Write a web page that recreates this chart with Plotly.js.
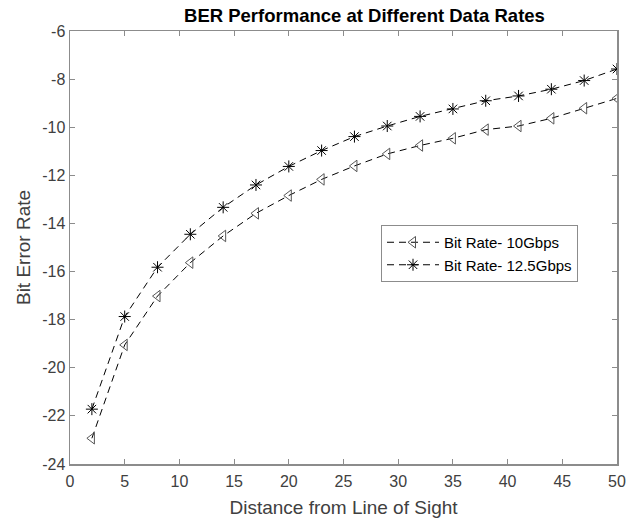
<!DOCTYPE html>
<html>
<head>
<meta charset="utf-8">
<script src="https://cdn.plot.ly/plotly-3.0.1.min.js"></script>
<style>html,body{margin:0;padding:0;background:#fff;}#chart{width:639px;height:520px;}</style>
</head>
<body>
<div id="chart"></div>
<script>
const distance = [2, 5, 8, 11, 14, 17, 20, 23, 26, 29, 32, 35, 38, 41, 44, 47, 50];
const ber10 = [-22.93, -19.05, -17.02, -15.63, -14.52, -13.58, -12.84, -12.17, -11.61, -11.11, -10.76, -10.46, -10.1, -9.95, -9.63, -9.21, -8.8];
const ber125 = [-21.72, -17.87, -15.82, -14.45, -13.33, -12.4, -11.63, -10.97, -10.39, -9.95, -9.55, -9.24, -8.9, -8.7, -8.42, -8.06, -7.58];
const seriesNames = ["Bit Rate- 10Gbps", "Bit Rate- 12.5Gbps"];
const xTicks = [0, 5, 10, 15, 20, 25, 30, 35, 40, 45, 50];
const yTicks = [-24, -22, -20, -18, -16, -14, -12, -10, -8, -6];

const font = "Liberation Sans, Arial, Helvetica, sans-serif";
const traces = [
  {x: distance, y: ber10, name: seriesNames[0], mode: "lines+markers", type: "scatter",
   line: {color: "#000", width: 1, dash: "7px,5px"},
   marker: {symbol: "triangle-left-open", size: 10, color: "#555", line: {color: "#555", width: 1}}},
  {x: distance, y: ber125, name: seriesNames[1], mode: "lines+markers", type: "scatter",
   line: {color: "#000", width: 1, dash: "7px,5px"},
   marker: {symbol: "asterisk-open", size: 10, color: "#000", line: {color: "#000", width: 1}}}
];
const axisCommon = {
  showgrid: false, zeroline: false, showline: true, mirror: "ticks",
  linecolor: "#8c8c8c", linewidth: 1.5, ticks: "inside", ticklen: 5, tickcolor: "#8c8c8c",
  tickfont: {family: font, size: 16, color: "#404040"}
};
const layout = {
  width: 639, height: 520,
  margin: {l: 70, r: 22, t: 31, b: 56},
  paper_bgcolor: "#fff", plot_bgcolor: "#fff",
  showlegend: true,
  title: {text: "<b>BER Performance at Different Data Rates</b>", font: {family: font, size: 18.5, color: "#000"}, x: 344 / 639, xanchor: "center", xref: "paper", y: 1 - 16 / 520, yanchor: "middle"},
  xaxis: Object.assign({}, axisCommon, {range: [0, 50], tickvals: xTicks, ticktext: xTicks.map(String), ticklabelstandoff: 2,
    title: {text: "Distance from Line of Sight", font: {family: font, size: 19, color: "#404040"}, standoff: 12}}),
  yaxis: Object.assign({}, axisCommon, {range: [-24, -6], tickvals: yTicks, ticktext: yTicks.map(String),
    title: {text: "Bit Error Rate", font: {family: font, size: 19, color: "#404040"}, standoff: 6}}),
  legend: {x: (381 - 70) / 547, y: 1 - (225 - 31) / 433, xanchor: "left", yanchor: "top", bgcolor: "#fff", bordercolor: "#8c8c8c", borderwidth: 1,
    font: {family: font, size: 15, color: "#000"}, tracegroupgap: 0, itemwidth: 52}
};
Plotly.newPlot("chart", traces, layout, {staticPlot: true, displayModeBar: false});
</script>
</body>
</html>
